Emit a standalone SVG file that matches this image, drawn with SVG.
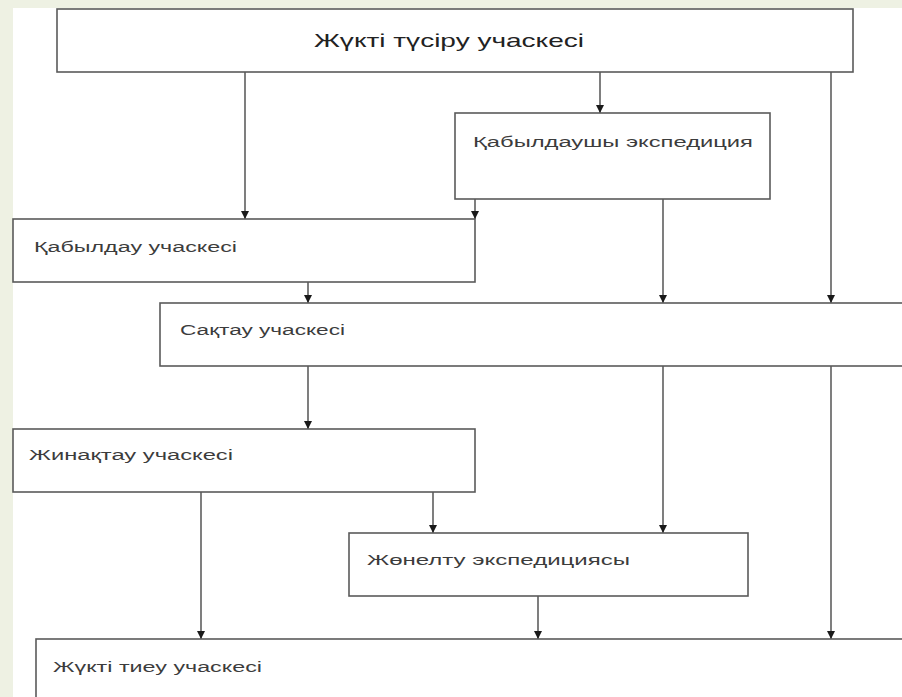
<svg xmlns="http://www.w3.org/2000/svg" width="902" height="697" viewBox="0 0 902 697">
<style>
.box{fill:#ffffff;stroke:#5a5a5a;stroke-width:1.6}
.lbl{font-family:"Liberation Sans","DejaVu Sans",sans-serif;font-size:14px;fill:#3c3c3c}
.title{font-family:"Liberation Sans","DejaVu Sans",sans-serif;font-size:19px;fill:#222}
.conn line{stroke:#3a3a3a;stroke-width:1.3;fill:none;marker-end:url(#ah)}
</style>
<defs>
<marker id="ah" viewBox="0 0 10 10" refX="10" refY="5" markerWidth="8" markerHeight="8" markerUnits="userSpaceOnUse" orient="auto">
<path d="M0,0 L10,5 L0,10 z" fill="#1a1a1a"/>
</marker>
</defs>
<rect x="0" y="0" width="902" height="697" fill="#ffffff"/>
<rect x="0" y="0" width="902" height="8" fill="#eef1e3"/>
<rect x="0" y="0" width="13" height="697" fill="#eef1e3"/>

<g class="conn">
<line x1="245" y1="72" x2="245" y2="219"/>
<line x1="600" y1="72" x2="600" y2="113"/>
<line x1="831" y1="72" x2="831" y2="303"/>
<line x1="475" y1="199" x2="475" y2="219"/>
<line x1="663" y1="199" x2="663" y2="303"/>
<line x1="308" y1="282" x2="308" y2="303"/>
<line x1="308" y1="366" x2="308" y2="429"/>
<line x1="663" y1="366" x2="663" y2="533"/>
<line x1="831" y1="366" x2="831" y2="639"/>
<line x1="201" y1="492" x2="201" y2="639"/>
<line x1="433" y1="492" x2="433" y2="533"/>
<line x1="538" y1="596" x2="538" y2="639"/>
</g>

<g id="n-tusiru">
<rect class="box" x="57" y="9" width="796" height="63"/>
<text class="title" x="449" y="47" text-anchor="middle" textLength="270" lengthAdjust="spacingAndGlyphs">Жүкті түсіру учаскесі</text>
</g>
<g id="n-kabyldaushy">
<rect class="box" x="455" y="113" width="315" height="86"/>
<text class="lbl" x="473" y="147" textLength="280" lengthAdjust="spacingAndGlyphs">Қабылдаушы экспедиция</text>
</g>
<g id="n-kabyldau">
<rect class="box" x="13" y="219" width="462" height="63"/>
<text class="lbl" x="34" y="252" textLength="203" lengthAdjust="spacingAndGlyphs">Қабылдау учаскесі</text>
</g>
<g id="n-saktau">
<rect class="box" x="160" y="303" width="750" height="63"/>
<text class="lbl" x="180" y="335" textLength="165" lengthAdjust="spacingAndGlyphs">Сақтау учаскесі</text>
</g>
<g id="n-zhinaktau">
<rect class="box" x="13" y="429" width="462" height="63"/>
<text class="lbl" x="29" y="460" textLength="204" lengthAdjust="spacingAndGlyphs">Жинақтау учаскесі</text>
</g>
<g id="n-zhonelt">
<rect class="box" x="349" y="533" width="399" height="63"/>
<text class="lbl" x="367" y="565" textLength="263" lengthAdjust="spacingAndGlyphs">Жөнелту экспедициясы</text>
</g>
<g id="n-tieu">
<rect class="box" x="36" y="639" width="880" height="80"/>
<text class="lbl" x="53" y="672" textLength="209" lengthAdjust="spacingAndGlyphs">Жүкті тиеу учаскесі</text>
</g>
</svg>
